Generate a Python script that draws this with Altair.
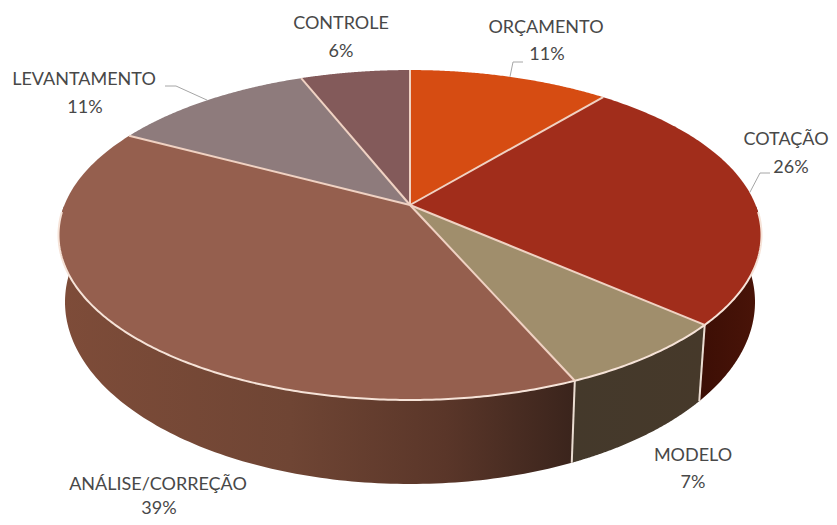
import numpy as np
import pandas as pd
import altair as alt

CATEGORIES = ["ORÇAMENTO", "COTAÇÃO", "MODELO", "ANÁLISE/CORREÇÃO", "LEVANTAMENTO", "CONTROLE"]
SHARES = [11.0, 25.5, 7.0, 39.3, 11.2, 6.0]
PERCENT_LABELS = ["11%", "26%", "7%", "39%", "11%", "6%"]
TOP_COLORS = ["#D64C12", "#A12D1B", "#A08E6C", "#955F4E", "#8E7B7C", "#835A5A"]
WALL_COLORS = [
    None,
    {"gradient": "linear", "x1": 0, "x2": 1, "y1": 0, "y2": 0,
     "stops": [{"offset": 0, "color": "#3C0E05"}, {"offset": 1, "color": "#4A1408"}]},
    {"gradient": "linear", "x1": 0, "x2": 1, "y1": 0, "y2": 0,
     "stops": [{"offset": 0, "color": "#44392B"}, {"offset": 1, "color": "#46392A"}]},
    {"gradient": "linear", "x1": 0, "x2": 1, "y1": 0, "y2": 0,
     "stops": [{"offset": 0, "color": "#7E4C39"}, {"offset": 0.45, "color": "#6F4534"},
               {"offset": 0.75, "color": "#5A3629"}, {"offset": 1, "color": "#3A241C"}]},
    None,
    None,
]
# Label placement: (x of first line, x of second line, y of first line, y of second line), in window pixels
LABEL_LAYOUT = [(546, 547, 28, 55), (786, 791, 140, 168), (693, 693, 456, 483),
                (158, 159, 485, 509), (84, 85, 80, 108), (341, 341, 24, 52)]
# Elbow points for the leader lines, for the labels that have them
LEADER_ELBOWS = {0: [(513, 62), (523, 62)], 1: [(760, 173), (770, 173)], 4: [(176, 86), (165, 86)]}

# Projection of the disc
CX, CY0, K, A, B = 410.0, 205.0, 0.1818, 345.6, 159.5
TOP_E = (351.5, 235.0, 165.0)   # rx, cy, ry of the top rim
BOT_E = (345.0, 302.0, 182.0)   # rx, cy, ry of the bottom rim
WALL_T0, WALL_T1 = 80.0, 280.0


def rim(phi_deg):
    p = np.radians(phi_deg)
    d = 1 + K * np.cos(p)
    return CX + A * np.sin(p) / d, CY0 - B * np.cos(p) / d


def ell(t_deg, e):
    t = np.radians(t_deg)
    return CX + e[0] * np.sin(t), e[1] - e[2] * np.cos(t)


def t_of_phi(phi):
    x, y = rim(phi)
    t = np.degrees(np.arctan2((x - CX) / TOP_E[0], (TOP_E[1] - y) / TOP_E[2]))
    return t % 360


cum = np.concatenate([[0], np.cumsum(SHARES)]) * 3.6
X = alt.X("x:Q", scale=alt.Scale(domain=[8, 829], nice=False, zero=False), axis=None)
Y = alt.Y("y:Q", scale=alt.Scale(domain=[517, 8], nice=False, zero=False), axis=None)
layers = []


def poly(xs, ys):
    return pd.DataFrame({"x": xs, "y": ys, "i": np.arange(len(xs))})


def line_layer(df, **kw):
    return alt.Chart(df).mark_line(interpolate="linear", **kw).encode(x=X, y=Y, order="i:Q")


# Side walls
for k in range(len(SHARES)):
    if WALL_COLORS[k] is None:
        continue
    t0 = max(t_of_phi(cum[k]), WALL_T0)
    t1 = min(t_of_phi(cum[k + 1]), WALL_T1)
    ts = np.linspace(t0, t1, 120)
    xt, yt = ell(ts, TOP_E)
    xb, yb = ell(ts[::-1], BOT_E)
    xs = np.concatenate([xt, xb, xt[:1]])
    ys = np.concatenate([yt, yb, yt[:1]])
    layers.append(line_layer(poly(xs, ys), fill=WALL_COLORS[k], strokeWidth=0, strokeOpacity=0))

# Dividers on the wall
for k in range(1, 3):
    t = t_of_phi(cum[k + 1])
    xa, ya = ell(t, TOP_E)
    xb, yb = ell(t, BOT_E)
    layers.append(line_layer(poly([xa, xb], [ya, yb]), stroke="#EBDDD2", strokeWidth=2))

# Top face
for k in range(len(SHARES)):
    ph = np.linspace(cum[k], cum[k + 1], 120)
    xr, yr = rim(ph)
    xs = np.concatenate([[CX], xr, [CX]])
    ys = np.concatenate([[CY0], yr, [CY0]])
    layers.append(line_layer(poly(xs, ys), fill=TOP_COLORS[k], strokeWidth=0, strokeOpacity=0))

# Front rim highlight
ts = np.linspace(WALL_T0 + 2, WALL_T1 - 2, 300)
xr, yr = ell(ts, TOP_E)
layers.append(line_layer(poly(xr, yr), stroke="#F6E3D8", strokeWidth=2))

# Spokes
for k in range(len(SHARES)):
    xr, yr = rim(cum[k])
    layers.append(line_layer(poly([CX, xr], [CY0, yr]), stroke="#F0D2C3", strokeWidth=2))

# Leader lines: start on the rim at the middle of the slice
for k, elbow in LEADER_ELBOWS.items():
    xa, ya = rim((cum[k] + cum[k + 1]) / 2)
    xs = [xa] + [p[0] for p in elbow]
    ys = [ya] + [p[1] for p in elbow]
    layers.append(line_layer(poly(xs, ys), stroke="#A6A6A6", strokeWidth=1))

# Labels
rows = []
for name, pct, (x1, x2, y1, y2) in zip(CATEGORIES, PERCENT_LABELS, LABEL_LAYOUT):
    rows.append({"x": x1, "y": y1, "t": name})
    rows.append({"x": x2, "y": y2, "t": pct})
layers.append(
    alt.Chart(pd.DataFrame(rows))
    .mark_text(font="Lato", fontSize=18, color="#484848", align="center", baseline="middle")
    .encode(x=X, y=Y, text="t:N")
)

chart = (
    alt.layer(*layers)
    .properties(width=821, height=509, padding=0, autosize=alt.AutoSizeParams(type="none"),
                background="#FFFFFF")
    .configure_view(stroke=None)
)
chart.save("out.html", embed_options={"renderer": "svg", "actions": False})
